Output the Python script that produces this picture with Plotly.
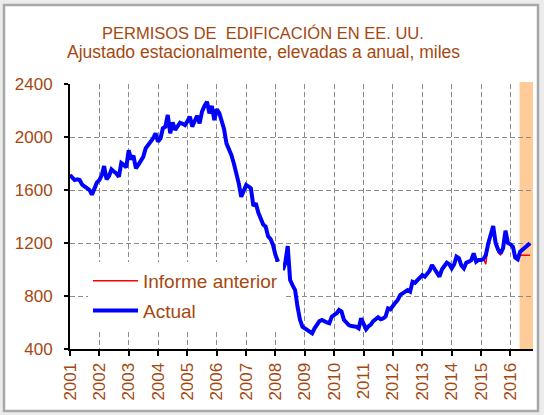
import pandas as pd
import plotly.graph_objects as go

# ---------------- data (thousands, SAAR), monthly from Jan 2001 ----------------
actual_2001 = [1713, 1690, 1675, 1680, 1675, 1640, 1625, 1610, 1600, 1565, 1620, 1655]
actual_2002 = [1675, 1713, 1781, 1680, 1705, 1756, 1740, 1725, 1700, 1804, 1790, 1770]
actual_2003 = [1900, 1830, 1860, 1764, 1790, 1815, 1850, 1915, 1940, 1965, 1990, 2028]
actual_2004 = [1965, 1990, 2066, 2078, 2166, 2028, 2110, 2053, 2080, 2108, 2100, 2090]
actual_2005 = [2120, 2153, 2078, 2130, 2160, 2103, 2191, 2234, 2266, 2178, 2234, 2128]
actual_2006 = [2209, 2180, 2128, 2060, 1952, 1910, 1864, 1800, 1726, 1650, 1549, 1600]
actual_2007 = [1638, 1625, 1613, 1480, 1500, 1430, 1374, 1340, 1323, 1250, 1230, 1185]
actual_2008 = [1109, 1059, None, 996, 1047, 1177, 921, 880, 845, 719, 620, 568]
actual_2009 = [556, 543, 525, 518, 556, 580, 610, 619, 606, 600, 594, 644]
actual_2010 = [657, 670, 694, 682, 620, 594, 580, 573, 570, 568, 556, 632]
actual_2011 = [590, 549, 570, 585, 610, 624, 640, 625, 630, 645, 707, 700]
actual_2012 = [720, 750, 770, 808, 820, 830, 845, 833, 908, 900, 921, 940]
actual_2013 = [958, 946, 970, 990, 1034, 1000, 980, 946, 1000, 1021, 1051, 1040]
actual_2014 = [1009, 1040, 1097, 1084, 1030, 1009, 1051, 1059, 1070, 1122, 1059, 1072]
actual_2015 = [1072, 1080, 1109, 1198, 1260, 1328, 1200, 1150, 1122, 1160, 1293, 1200]
actual_2016 = [1190, 1172, 1090, 1077, 1134, 1150, 1160, 1180, 1198]

actual = (actual_2001 + actual_2002 + actual_2003 + actual_2004 + actual_2005 +
          actual_2006 + actual_2007 + actual_2008 + actual_2009 + actual_2010 +
          actual_2011 + actual_2012 + actual_2013 + actual_2014 + actual_2015 +
          actual_2016)

# previous report: same history except a few revisions and a flat tail
previous_2015 = [1072, 1080, 1040, 1198, 1260, 1328, 1200, 1130, 1110, 1160, 1293, 1200]
previous_2016 = [1190, 1172, 1090, 1107, 1107, 1107, 1107, 1107, 1107]
previous = actual[:168] + previous_2015 + previous_2016

months = pd.date_range("2001-01-01", periods=len(actual), freq="MS")

y_ticks = [400, 800, 1200, 1600, 2000, 2400]
x_range = ["2001-01-01", "2016-10-08"]
shade_start = "2016-04-24"

title_1 = "PERMISOS DE  EDIFICACIÓN EN EE. UU."
title_2 = "Ajustado estacionalmente, elevadas a anual, miles"
series_names = ["Informe anterior", "Actual"]

# ---------------- styling ----------------
W, H = 544, 415
L, R, T, B = 70, 11, 84, 66
PW, PH = W - L - R, H - T - B
BROWN = "#A5480F"
FONT = "Liberation Sans, Arial, sans-serif"


def px(xp):
    return (xp - L) / PW


def py(yp):
    return (H - B - yp) / PH


fig = go.Figure()
fig.add_trace(go.Scatter(x=months, y=previous, mode="lines", name=series_names[0],
                         line=dict(color="#FF0000", width=1.5), legendgroup="a",
                         connectgaps=False))
fig.add_trace(go.Scatter(x=months, y=actual, mode="lines", name=series_names[1],
                         line=dict(color="#0000FF", width=4), legendgroup="b",
                         connectgaps=False))

grid = dict(showgrid=True, gridcolor="#8c8c8c", gridwidth=1, griddash="5px,3px")

fig.update_xaxes(type="date", range=x_range, dtick="M12", tick0="2001-01-01",
                 tickformat="%Y", tickangle=-90, ticks="outside", ticklen=5,
                 tickcolor="black", tickwidth=1.5, showline=True, linecolor="black",
                 linewidth=2, tickfont=dict(family=FONT, size=17, color=BROWN),
                 zeroline=False, automargin=False, **grid)
fig.update_yaxes(range=[400, 2400], tickvals=y_ticks, ticks="outside", ticklen=4,
                 tickcolor="black", tickwidth=1.5, showline=True, linecolor="black",
                 linewidth=2, tickfont=dict(family=FONT, size=17, color=BROWN),
                 ticklabelstandoff=8, zeroline=False, automargin=False, **grid)

shapes = [
    # outer frame
    dict(type="rect", xref="paper", yref="paper", x0=px(4), x1=px(538), y0=py(411), y1=py(5),
         fillcolor="white", line=dict(color="#a8a8a8", width=2.5), layer="below"),
    # shaded period
    dict(type="rect", xref="x", yref="paper", x0=shade_start, x1=x_range[1], y0=0, y1=1.008,
         fillcolor="#FFCC99", line=dict(width=0), layer="between"),
]

annotations = [
    dict(text=title_1, xref="paper", yref="paper", x=px(263), y=py(33), showarrow=False,
         xanchor="center", yanchor="middle", font=dict(family=FONT, size=16.5, color=BROWN)),
    dict(text=title_2, xref="paper", yref="paper", x=px(263), y=py(52), showarrow=False,
         xanchor="center", yanchor="middle", font=dict(family=FONT, size=17.5, color=BROWN)),
]

fig.update_layout(
    width=W, height=H,
    margin=dict(l=L, r=R, t=T, b=B, autoexpand=False),
    paper_bgcolor="#ececec", plot_bgcolor="white",
    shapes=shapes, annotations=annotations,
    showlegend=True,
    legend=dict(x=px(88), y=py(262), xanchor="left", yanchor="top",
                bgcolor="white", borderwidth=0, traceorder="grouped", itemwidth=45,
                tracegroupgap=2, font=dict(family=FONT, size=19, color=BROWN)),
)

fig.write_html("out.html", config={"displayModeBar": False},
               post_script="document.body.style.margin='0';document.body.style.overflow='hidden';")
